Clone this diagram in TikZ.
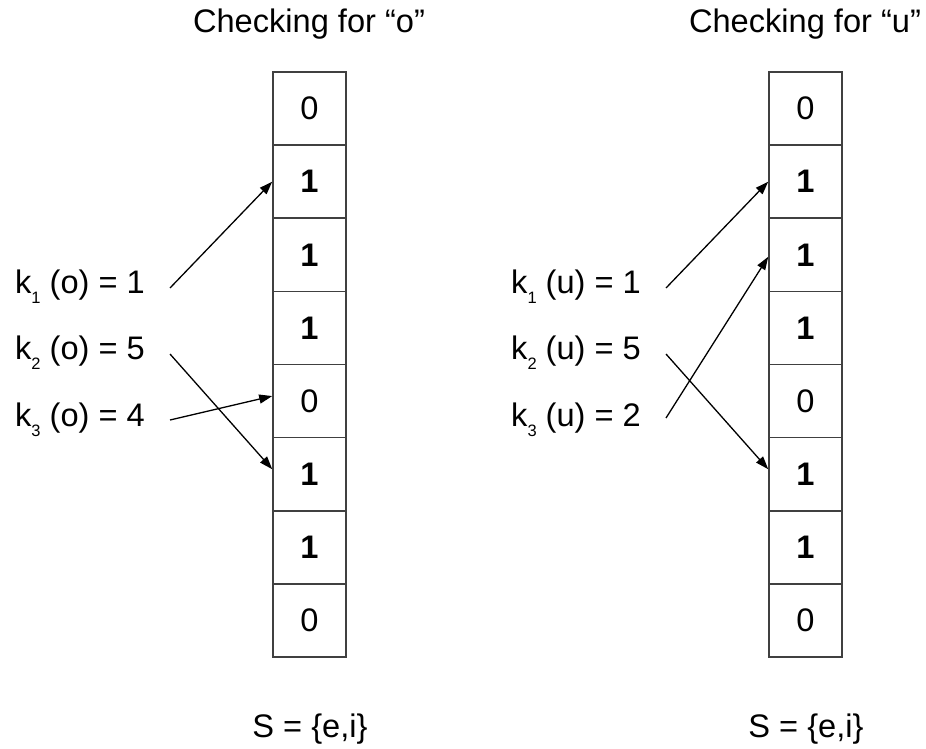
\documentclass[tikz,border=0pt]{standalone}
\usepackage{fontspec}
\setmainfont{Liberation Sans}
\usetikzlibrary{arrows.meta}
\newcommand\ksub[1]{k\raisebox{-10pt}{\fontsize{16.5}{18}\selectfont #1}}
\begin{document}
\begin{tikzpicture}[x=1pt,y=-1pt,
  every node/.style={font=\fontsize{32.6}{39}\selectfont, inner sep=0pt},
  cell/.style={draw=black!75, line width=1.6pt, minimum width=73pt, minimum height=73.125pt},
  lbl/.style={anchor=base west},
  arr/.style={line width=1.3pt, -{Triangle[length=13pt,width=9pt]}},
  ttl/.style={anchor=base}]
\useasboundingbox (0,0) rectangle (926,749);
\node[ttl] (t1) at (309,33) {Checking for “o”};
\node[ttl] (t2) at (805,33) {Checking for “u”};
\foreach \v [count=\i] in {0,\textbf{1},\textbf{1},\textbf{1},0,\textbf{1},\textbf{1},0} {
  \node[cell] (L\i) at (309.5,{72+73.125*(\i-0.5)}) {\v};
  \node[cell] (R\i) at (805.5,{72+73.125*(\i-0.5)}) {\v};
}
% left labels
\node[lbl] (a1) at (15,293) {\ksub{1} (o) = 1};
\node[lbl] (a2) at (15,359.5) {\ksub{2} (o) = 5};
\node[lbl] (a3) at (15,426) {\ksub{3} (o) = 4};
% right labels
\node[lbl] (b1) at (511,293) {\ksub{1} (u) = 1};
\node[lbl] (b2) at (511,359.5) {\ksub{2} (u) = 5};
\node[lbl] (b3) at (511,426) {\ksub{3} (u) = 2};
% arrow starts
\coordinate (sa1) at (170,288);
\coordinate (sa2) at (170,354);
\coordinate (sa3) at (170,420);
\coordinate (sb1) at (666,288);
\coordinate (sb2) at (666,354);
\coordinate (sb3) at (666,418);
\draw[arr] (sa1) -- (L2.west);
\draw[arr] (sa2) -- ([yshift=5pt]L6.west);
\draw[arr] (sa3) -- ([yshift=5pt]L5.west);
\draw[arr] (sb1) -- (R2.west);
\draw[arr] (sb2) -- ([yshift=5pt]R6.west);
\draw[arr] (sb3) -- ([yshift=-2pt]R3.west);
% sets
\node[ttl] (s1) at (310,737) {S = \{e,i\}};
\node[ttl] (s2) at (806,737) {S = \{e,i\}};
\end{tikzpicture}
\end{document}
